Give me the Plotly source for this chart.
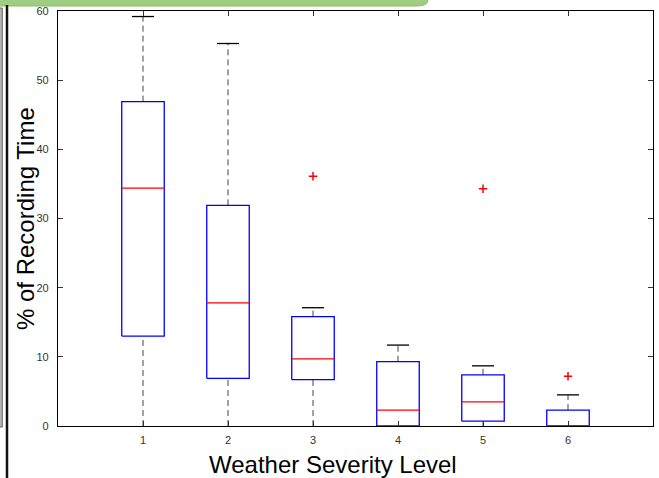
import plotly.graph_objects as go

# ---- data ----
levels = [1, 2, 3, 4, 5, 6]
tick_labels = ["1", "2", "3", "4", "5", "6"]
lower_whisker = [0.0, 0.0, 0.0, 0.0, 0.0, 0.0]
q1 = [13.0, 6.9, 6.7, 0.0, 0.7, 0.0]
median = [34.4, 17.8, 9.7, 2.3, 3.5, 0.0]
q3 = [46.9, 31.9, 15.8, 9.3, 7.4, 2.3]
upper_whisker = [59.2, 55.3, 17.1, 11.7, 8.7, 4.5]
outlier_x = [3, 5, 6]
outlier_y = [36.1, 34.3, 7.2]

y_ticks = [0, 10, 20, 30, 40, 50, 60]

BOX_HALF = 0.25
CAP_HALF = 0.13

fig = go.Figure()

# whiskers (dashed)
wx, wy = [], []
for c, lo, a, b, hi in zip(levels, lower_whisker, q1, q3, upper_whisker):
    wx += [c, c, None, c, c, None]
    wy += [b, hi, None, lo, a, None]
fig.add_trace(go.Scatter(x=wx, y=wy, mode="lines",
                         line=dict(color="#444444", width=1, dash="6px,4px"),
                         hoverinfo="skip", showlegend=False))

# caps (upper)
cx, cy = [], []
for c, hi in zip(levels, upper_whisker):
    cx += [c - CAP_HALF, c + CAP_HALF, None]
    cy += [hi, hi, None]
fig.add_trace(go.Scatter(x=cx, y=cy, mode="lines",
                         line=dict(color="black", width=1.3),
                         hoverinfo="skip", showlegend=False))

# boxes
bx, by = [], []
for c, a, b in zip(levels, q1, q3):
    bx += [c - BOX_HALF, c + BOX_HALF, c + BOX_HALF, c - BOX_HALF, c - BOX_HALF, None]
    by += [a, a, b, b, a, None]
fig.add_trace(go.Scatter(x=bx, y=by, mode="lines",
                         line=dict(color="#0000ff", width=1.3),
                         hoverinfo="skip", showlegend=False))

# medians
mx, my = [], []
for c, m in zip(levels, median):
    mx += [c - BOX_HALF, c + BOX_HALF, None]
    my += [m, m, None]
fig.add_trace(go.Scatter(x=mx, y=my, mode="lines",
                         line=dict(color="#ff0000", width=1.3),
                         hoverinfo="skip", showlegend=False))

# outliers
fig.add_trace(go.Scatter(x=outlier_x, y=outlier_y, mode="markers",
                         marker=dict(symbol="cross-thin", size=6,
                                     line=dict(color="#ff0000", width=1.5)),
                         hoverinfo="skip", showlegend=False))

W, H = 659, 478
L, R, T, B = 58, 6, 11, 52
pw, ph = W - L - R, H - T - B


def px(x):
    return (x - L) / pw


def py(y):
    return (H - B - y) / ph


shapes = [
    # green bar at top
    dict(type="path", xref="paper", yref="paper",
         path=(f"M {px(-2)} {py(-3)} L {px(428)} {py(-3)} "
               f"L {px(428)} {py(0)} Q {px(428)} {py(6)} {px(416)} {py(6)} "
               f"L {px(-2)} {py(6)} Z"),
         fillcolor="#9fcd82", line=dict(color="#86bf63", width=1), layer="above"),
    # black vertical line at left
    dict(type="line", xref="paper", yref="paper",
         x0=px(7), x1=px(7), y0=py(5), y1=py(480),
         line=dict(color="#111111", width=2.5), layer="above"),
    # gray strip at far left
    dict(type="rect", xref="paper", yref="paper",
         x0=px(-2), x1=px(2.3), y0=py(427), y1=py(8),
         fillcolor="#b4b4b4", line=dict(color="#666666", width=1), layer="above"),
]

annotations = [
    dict(text="% of Recording Time", xref="paper", yref="paper",
         x=px(26), y=py(219), textangle=-90, showarrow=False,
         font=dict(family="Liberation Sans, Arial", size=24, color="black"),
         xanchor="center", yanchor="middle"),
    dict(text="Weather Severity Level", xref="paper", yref="paper",
         x=px(333), y=py(464), showarrow=False,
         font=dict(family="Liberation Sans, Arial", size=24, color="black"),
         xanchor="center", yanchor="middle"),
]

fig.update_layout(
    width=W, height=H,
    margin=dict(l=L, r=R, t=T, b=B, pad=0),
    paper_bgcolor="white", plot_bgcolor="white",
    shapes=shapes, annotations=annotations,
    font=dict(family="Liberation Sans, Arial", size=11, color="#333333"),
    xaxis=dict(range=[0, 7], tickvals=levels, ticktext=tick_labels,
               ticks="inside", ticklen=5, tickcolor="#333333",
               showline=True, linecolor="black", linewidth=1.3, mirror="ticks",
               showgrid=False, zeroline=False, ticklabelstandoff=4),
    yaxis=dict(range=[0, 60], tickvals=y_ticks,
               ticks="inside", ticklen=5, tickcolor="#333333",
               showline=True, linecolor="black", linewidth=1.3, mirror="ticks",
               showgrid=False, zeroline=False, ticklabelstandoff=6),
)

fig.write_html("out.html", config={"displayModeBar": False},
               post_script="document.body.style.margin='0';document.body.style.overflow='hidden';")
